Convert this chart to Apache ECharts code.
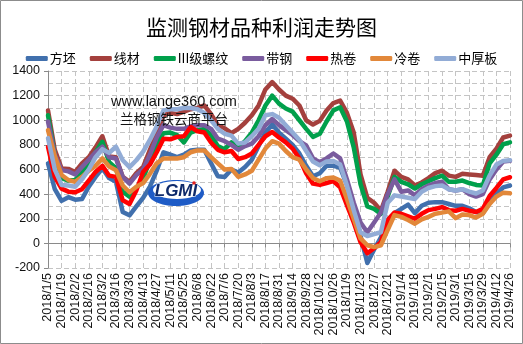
<!DOCTYPE html>
<html>
<head>
<meta charset="utf-8">
<script src="https://cdn.jsdelivr.net/npm/echarts@6/dist/echarts.min.js"></script>
<style>
html,body{margin:0;padding:0;background:#fff;}
#chart{width:523px;height:344px;}
</style>
</head>
<body>
<div id="chart"></div>
<script>
var dates = ['2018/1/5','2018/1/12','2018/1/19','2018/1/26','2018/2/2','2018/2/9','2018/2/16','2018/2/23','2018/3/2','2018/3/9','2018/3/16','2018/3/23','2018/3/30','2018/4/6','2018/4/13','2018/4/20','2018/4/27','2018/5/4','2018/5/11','2018/5/18','2018/5/25','2018/6/1','2018/6/8','2018/6/15','2018/6/22','2018/6/29','2018/7/6','2018/7/13','2018/7/20','2018/7/27','2018/8/3','2018/8/10','2018/8/17','2018/8/24','2018/8/31','2018/9/7','2018/9/14','2018/9/21','2018/9/28','2018/10/5','2018/10/12','2018/10/19','2018/10/26','2018/11/2','2018/11/9','2018/11/16','2018/11/23','2018/11/30','2018/12/7','2018/12/14','2018/12/21','2018/12/28','2019/1/4','2019/1/11','2019/1/18','2019/1/25','2019/2/1','2019/2/8','2019/2/15','2019/2/22','2019/3/1','2019/3/8','2019/3/15','2019/3/22','2019/3/29','2019/4/5','2019/4/12','2019/4/19','2019/4/26'];

var billet = [650,440,345,375,355,360,460,540,610,530,500,255,228,300,370,460,590,740,720,700,720,755,760,760,650,545,540,600,575,620,680,790,900,965,900,850,800,730,630,545,570,630,630,615,475,285,60,-160,-50,50,190,245,280,315,245,305,330,335,335,320,305,305,285,255,245,330,400,455,470];
var wire = [1080,760,608,605,580,650,700,780,870,705,700,540,500,570,620,760,890,1040,1060,1050,1070,1090,1100,1120,1050,960,935,895,930,980,1040,1120,1250,1310,1250,1200,1175,1120,1000,965,995,1080,1140,1160,1060,900,560,370,330,265,420,590,540,520,470,495,530,570,590,550,540,565,560,555,550,700,770,860,875];
var rebar = [1040,720,530,510,515,580,650,740,825,660,610,420,380,450,525,675,810,895,900,880,820,900,920,930,880,790,765,820,780,830,900,1000,1120,1200,1135,1095,1070,1000,930,865,890,990,1080,1105,990,780,480,300,280,240,380,540,500,480,445,480,505,530,550,500,500,510,490,475,470,650,720,805,820];
var strip = [990,720,595,585,560,620,680,740,785,700,690,540,485,555,600,720,860,960,940,930,930,950,960,960,930,850,830,800,760,790,810,870,960,1010,960,920,880,830,795,690,660,690,730,690,520,330,170,90,170,250,400,520,420,430,390,440,470,490,500,440,430,440,400,380,400,520,600,665,670];
var hot = [785,540,445,420,415,440,510,580,630,550,540,350,320,430,580,640,740,850,845,865,870,945,910,900,820,760,740,750,685,700,730,800,870,905,860,820,770,690,570,485,475,490,505,455,310,170,10,-80,-40,10,190,250,240,220,200,240,270,280,295,270,265,280,265,255,280,385,450,520,537];
var cold = [920,710,555,515,500,540,590,630,690,625,595,470,415,460,490,565,650,690,690,690,700,740,755,755,700,650,600,605,540,560,590,680,770,830,810,750,700,680,600,530,505,530,535,510,360,200,40,-15,-30,-15,110,230,215,190,160,195,215,240,250,260,205,235,230,210,240,320,380,412,407];
var plate = [855,600,475,470,460,520,600,700,765,735,785,675,620,675,745,840,950,1080,1090,1090,1100,1100,1090,1060,1000,930,890,875,810,820,870,930,1040,1050,1020,960,900,840,750,665,635,665,670,640,470,270,90,60,75,90,330,390,380,370,360,420,450,465,470,440,430,440,420,405,430,550,640,670,675];

var seriesNames = ['方坯','线材','III级螺纹','带钢','热卷','冷卷','中厚板'];
var seriesData = [billet, wire, rebar, strip, hot, cold, plate];
var colors = ['#4170AD','#A4403D','#00A04B','#7A5C9E','#FF0000','#E2883A','#92ACD6'];

var chart = echarts.init(document.getElementById('chart'), null, {renderer:'canvas'});
var cjk = '"Noto Sans CJK SC", sans-serif';
var num = '"Liberation Sans", Arial, sans-serif';

var series = seriesNames.map(function(n, i){
  return {
    name: n, type: 'line', data: seriesData[i], symbol: 'none',
    lineStyle: {width: 4.5, color: colors[i], join: 'round', cap: 'round'},
    itemStyle: {color: colors[i]},
    z: 3 + i, animation: false
  };
});

chart.setOption({
  animation: false,
  backgroundColor: '#fff',
  color: colors,
  title: {
    text: '监测钢材品种利润走势图', left: 'center', top: 12,
    textStyle: {fontFamily: cjk, fontSize: 21, fontWeight: 'normal', color: '#000'}
  },
  legend: {
    top: 47, left: 'center', itemWidth: 22, itemHeight: 5, itemGap: 14,
    icon: 'roundRect',
    textStyle: {fontFamily: cjk, fontSize: 13, color: '#000', padding: [0,0,0,-3]},
    data: seriesNames
  },
  grid: {left: 48, right: 13, top: 71, bottom: 76, containLabel: false},
  xAxis: {
    type: 'category', data: dates, boundaryGap: false,
    axisLine: {show: true, lineStyle: {color: '#8a8a8a', width: 1}},
    axisTick: {show: true, interval: 1, length: 4, lineStyle: {color: '#8a8a8a'}},
    axisLabel: {interval: 1, rotate: 90, fontFamily: num, fontSize: 12.5, color: '#111', margin: 5},
    splitLine: {show: true, interval: 1, lineStyle: {color: '#c4c4c4', type: [5,3], width: 1}}
  },
  yAxis: {
    type: 'value', min: -200, max: 1400, interval: 200,
    axisLine: {show: true, lineStyle: {color: '#8a8a8a', width: 1}},
    axisTick: {show: true, length: 4, lineStyle: {color: '#8a8a8a'}},
    axisLabel: {fontFamily: num, fontSize: 12.5, color: '#111', margin: 8, formatter: function(v){ return String(v); }},
    splitLine: {show: true, lineStyle: {color: '#c4c4c4', type: [5,3], width: 1}},
    minorTick: {show: false, splitNumber: 2},
    minorSplitLine: {show: true, lineStyle: {color: '#c4c4c4', type: [5,3], width: 1}}
  },
  graphic: [
    {type: 'rect', shape: {x: 0.5, y: 0.5, width: 522, height: 343}, style: {fill: 'none', stroke: '#8c8c8c', lineWidth: 1}, z: 100, silent: true},
    {type: 'text', left: 111, top: 94, zlevel: 1, z: 50, style: {text: 'www.lange360.com', font: '14.5px "Liberation Sans", Arial, sans-serif', fill: '#111'}},
    {type: 'text', left: 120, top: 112, zlevel: 1, z: 50, style: {text: '兰格钢铁云商平台', font: '13.5px "Noto Sans CJK SC", sans-serif', fill: '#111'}},
    {type: 'ellipse', shape: {cx: 176, cy: 193, rx: 28, ry: 13}, style: {fill: '#1E5BC6'}, zlevel: 1, z: 50},
    {type: 'ellipse', shape: {cx: 177, cy: 190, rx: 24, ry: 9}, style: {fill: '#ffffff'}, zlevel: 1, z: 51},
    {type: 'text', x: 176, y: 191, zlevel: 1, z: 52, style: {text: 'LGMI', font: 'italic bold 17px "Liberation Sans", Arial, sans-serif', fill: '#0E2A6B', stroke: '#ffffff', lineWidth: 1, textAlign: 'center', textVerticalAlign: 'middle'}},
    {type: 'circle', shape: {cx: 194, cy: 183, r: 1.8}, style: {fill: '#E02020'}, zlevel: 1, z: 53}
  ],
  series: series
});
</script>
</body>
</html>
